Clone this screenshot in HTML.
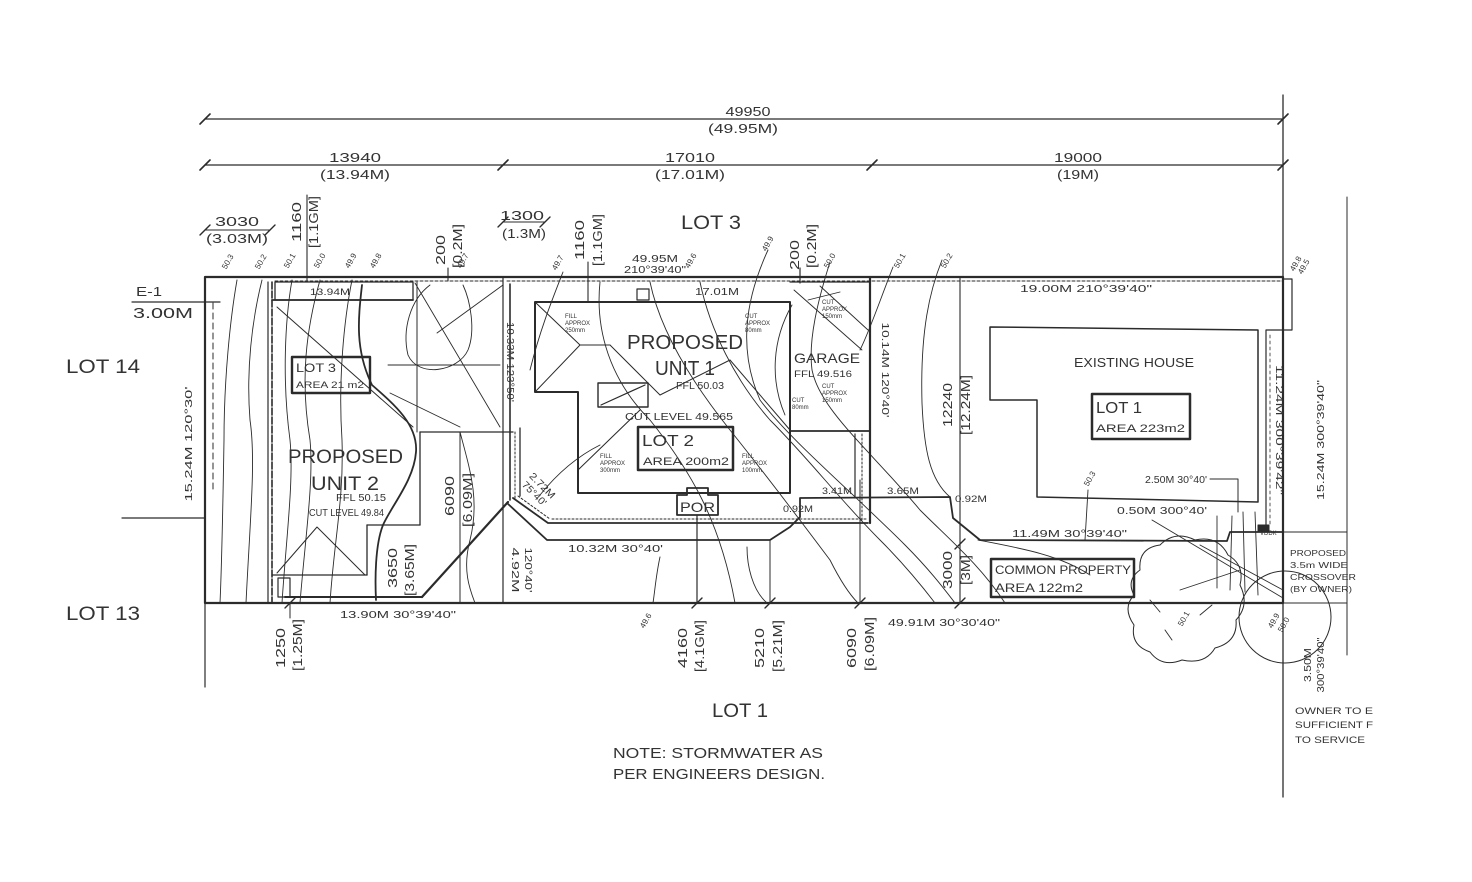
<!DOCTYPE html>
<html><head><meta charset="utf-8"><style>
html,body{margin:0;padding:0;background:#fff;}
svg{display:block;}
text{font-family:"Liberation Sans",sans-serif;fill:#333;}
</style></head><body>
<svg width="1472" height="882" viewBox="0 0 1472 882" xmlns="http://www.w3.org/2000/svg">
<rect width="1472" height="882" fill="#fff"/>
<g stroke="#2b2b2b" fill="none" stroke-linecap="round" stroke-linejoin="round">
<!-- top dimension lines -->
<line x1="205" y1="119" x2="1283" y2="119" stroke-width="1.3"/>
<line x1="205" y1="165" x2="1283" y2="165" stroke-width="1.3"/>
<g stroke-width="1.6">
<line x1="200" y1="124" x2="210" y2="114"/><line x1="1278" y1="124" x2="1288" y2="114"/>
<line x1="200" y1="170" x2="210" y2="160"/><line x1="498" y1="170" x2="508" y2="160"/>
<line x1="867" y1="170" x2="877" y2="160"/><line x1="1278" y1="170" x2="1288" y2="160"/>
</g>
<line x1="1283" y1="95" x2="1283" y2="797" stroke-width="1.3"/>
<line x1="1347" y1="197" x2="1347" y2="655" stroke-width="1"/>
<line x1="1283" y1="532" x2="1347" y2="532" stroke-width="1"/>
<line x1="1283" y1="603" x2="1347" y2="603" stroke-width="1"/>

<!-- lot boundary -->
<rect x="205" y="277" width="1078" height="326" stroke-width="2.2"/>
<line x1="507" y1="281" x2="1283" y2="281" stroke-width="1" stroke-dasharray="3 2"/>
<line x1="275" y1="281" x2="503" y2="281" stroke-width="1" stroke-dasharray="3 2"/>

<!-- left side -->
<line x1="122" y1="518" x2="205" y2="518" stroke-width="1.2"/>
<line x1="205" y1="603" x2="205" y2="687" stroke-width="1.2"/>
<line x1="132" y1="302" x2="220" y2="302" stroke-width="1.2"/>
<line x1="213" y1="303" x2="213" y2="490" stroke-width="1" stroke-dasharray="6 4"/>
<line x1="268" y1="282" x2="268" y2="603" stroke-width="1.2"/>
<line x1="272" y1="282" x2="272" y2="603" stroke-width="1.6" stroke-dasharray="7 2"/>
<!-- dims top left -->
<line x1="205" y1="230" x2="270" y2="230" stroke-width="1.1"/>
<line x1="200" y1="235" x2="210" y2="225" stroke-width="1.4"/><line x1="265" y1="235" x2="275" y2="225" stroke-width="1.4"/>
<line x1="307" y1="195" x2="307" y2="282" stroke-width="1.1"/>
<line x1="448" y1="268" x2="448" y2="281" stroke-width="1.1"/>
<line x1="503" y1="222" x2="545" y2="222" stroke-width="1.1"/>
<line x1="498" y1="227" x2="508" y2="217" stroke-width="1.4"/><line x1="540" y1="227" x2="550" y2="217" stroke-width="1.4"/>
<line x1="588" y1="262" x2="588" y2="302" stroke-width="1.1"/>
<line x1="800" y1="268" x2="800" y2="283" stroke-width="1.2"/>

<!-- contours left strip -->
<g stroke-width="0.9">
<path d="M237,280 C230,320 224,380 224,440 C223,500 222,560 220,603"/>
<path d="M262,280 C252,320 246,370 250,420 C256,460 250,520 246,603"/>
<path d="M292,280 C285,320 282,380 290,440 C294,480 286,540 282,603"/>
<path d="M320,280 C306,330 300,380 310,440 C314,480 305,540 300,603"/>
<path d="M352,280 C344,320 338,380 342,440 C344,500 334,540 330,603"/>
<path d="M430,285 C410,300 402,330 408,355 C418,378 458,372 468,350 C476,330 470,300 463,285"/>
<line x1="415" y1="283" x2="500" y2="427"/>
<line x1="390" y1="393" x2="460" y2="427"/>
<line x1="437" y1="333" x2="503" y2="285"/>
<line x1="388" y1="365" x2="500" y2="365"/>
<path d="M460,432 C470,470 480,500 470,540 C462,570 470,590 475,603"/>
</g>

<!-- unit 2 -->
<rect x="275" y="282" width="138" height="18" stroke-width="1.3"/>
<line x1="272" y1="300" x2="413" y2="300" stroke-width="1.8"/>
<path d="M362,285 C358,320 355,350 372,385 C395,405 418,425 416,452 C414,480 392,505 383,525 C375,545 375,580 376,600" stroke-width="1.8"/>
<line x1="417" y1="282" x2="417" y2="432" stroke-width="1"/>
<line x1="420" y1="432" x2="513" y2="432" stroke-width="1.3"/>
<line x1="420" y1="432" x2="420" y2="525" stroke-width="1.3"/>
<line x1="367" y1="525" x2="420" y2="525" stroke-width="1.3"/>
<line x1="367" y1="525" x2="367" y2="575" stroke-width="1.3"/>
<line x1="272" y1="575" x2="367" y2="575" stroke-width="1.3"/>
<line x1="277" y1="307" x2="413" y2="427" stroke-width="1"/>
<polyline points="277,573 317,527 365,575" stroke-width="1"/>
<line x1="460" y1="432" x2="460" y2="603" stroke-width="1"/>
<rect x="278" y="578" width="12" height="19" stroke-width="1.2"/>
<line x1="285" y1="597" x2="422" y2="597" stroke-width="2"/>
<line x1="422" y1="597" x2="508" y2="502" stroke-width="2.2"/>
<rect x="292" y="357" width="78" height="36" stroke-width="2.4"/>

<!-- divider unit2/unit1 -->
<line x1="503" y1="277" x2="503" y2="603" stroke-width="1.2"/>
<line x1="510" y1="284" x2="510" y2="500" stroke-width="1.6"/>
<line x1="515" y1="432" x2="515" y2="498" stroke-width="1" stroke-dasharray="2 2"/>
<line x1="520" y1="428" x2="520" y2="496" stroke-width="1.3"/>

<!-- unit 1 -->
<polygon points="535,302 790,302 790,493 578,493 578,392 535,392" stroke-width="2"/>
<rect x="637" y="289" width="12" height="11" stroke-width="1.2"/>
<g stroke-width="1">
<polyline points="535,302 580,345 610,345"/>
<line x1="580" y1="345" x2="535" y2="392"/>
<line x1="610" y1="345" x2="660" y2="395"/>
<line x1="578" y1="470" x2="640" y2="410"/>
<line x1="660" y1="395" x2="730" y2="360"/>
<line x1="730" y1="360" x2="790" y2="430"/>
</g>
<rect x="598" y="383" width="50" height="24" stroke-width="1.4"/>
<line x1="601" y1="405" x2="645" y2="385" stroke-width="1.2"/>
<rect x="638" y="427" width="95" height="43" stroke-width="2.5"/>
<polygon points="677,495 687,495 687,488 708,488 708,495 718,495 718,515 677,515" stroke-width="1.8"/>
<!-- garage -->
<line x1="870" y1="278" x2="870" y2="523" stroke-width="2.2"/>
<line x1="790" y1="282" x2="870" y2="282" stroke-width="1.2"/>
<line x1="790" y1="431" x2="870" y2="431" stroke-width="1.8"/>
<line x1="862" y1="434" x2="862" y2="520" stroke-width="1" stroke-dasharray="2 2"/>
<line x1="855" y1="434" x2="855" y2="498" stroke-width="1.2"/>
<g stroke-width="0.9">
<line x1="794" y1="290" x2="862" y2="350"/>
<line x1="820" y1="286" x2="868" y2="330"/>
<line x1="808" y1="300" x2="840" y2="292"/>
<path d="M792,305 C772,340 770,380 785,415"/>
</g>
<!-- driveway -->
<polyline points="513,498 548,523 868,523" stroke-width="1.8"/>
<line x1="518" y1="496" x2="550" y2="519" stroke-width="1" stroke-dasharray="2 2"/>
<line x1="552" y1="519" x2="866" y2="519" stroke-width="1" stroke-dasharray="2 2"/>
<polyline points="507,503 547,540 770,540 790,527 800,517 800,498 950,497 953,518 980,540 1227,541 1230,532 1283,532" stroke-width="1.8"/>
<line x1="697" y1="515" x2="697" y2="603" stroke-width="1.2"/>
<line x1="770" y1="540" x2="770" y2="603" stroke-width="1"/>
<line x1="860" y1="480" x2="860" y2="603" stroke-width="1"/>
<line x1="960" y1="278" x2="960" y2="603" stroke-width="1.1"/>
<g stroke-width="1.4">
<line x1="285" y1="608" x2="295" y2="598"/><line x1="692" y1="608" x2="702" y2="598"/>
<line x1="765" y1="608" x2="775" y2="598"/><line x1="855" y1="608" x2="865" y2="598"/>
<line x1="955" y1="608" x2="965" y2="598"/><line x1="955" y1="549" x2="965" y2="539"/>
</g>
<line x1="290" y1="603" x2="290" y2="618" stroke-width="1"/>

<!-- contours unit 1 and right -->
<g stroke-width="0.9">
<path d="M563,272 C552,300 540,330 530,370"/>
<path d="M600,282 C595,330 610,380 650,420 C690,470 720,520 735,603"/>
<path d="M650,282 C660,330 690,380 730,430 C770,480 800,520 830,560 C840,580 850,595 858,603"/>
<path d="M700,282 C710,330 735,380 770,420 C810,460 840,500 880,540 C905,565 925,590 935,603"/>
<path d="M768,250 C745,300 738,350 760,400 C790,440 850,490 905,545 C930,570 945,590 955,603"/>
<path d="M830,262 C818,300 808,340 812,370 C820,410 870,450 920,510 C950,540 980,565 1005,603"/>
<path d="M893,267 C880,300 870,330 860,350"/>
<path d="M942,260 C930,290 920,330 922,403 C924,450 930,480 950,497"/>
<path d="M660,557 C656,575 655,590 653,603"/>
<path d="M747,547 C747,565 752,590 767,603"/>
<path d="M540,495 C560,470 580,455 600,445"/>
<path d="M978,540 C1020,548 1060,555 1090,575"/>
</g>

<!-- right part -->
<polygon points="990,327 1258,330 1258,502 1037,497 1037,400 990,400" stroke-width="1.5"/>
<rect x="1092" y="394" width="98" height="45" stroke-width="2.5"/>
<polyline points="1283,279 1292,279 1292,330 1266,330 1266,530" stroke-width="1.2"/>
<line x1="1270" y1="335" x2="1270" y2="525" stroke-width="0.8" stroke-dasharray="3 3"/>
<polyline points="1210,479 1238,479 1238,512" stroke-width="1"/>
<line x1="1088" y1="490" x2="1085" y2="540" stroke-width="0.9"/>
<rect x="1258" y="525" width="11" height="7" fill="#2b2b2b" stroke-width="1"/>
<rect x="991" y="559" width="143" height="38" stroke-width="2.5"/>
<g stroke-width="0.9">
<line x1="1217" y1="516" x2="1217" y2="588"/>
<line x1="1232" y1="516" x2="1230" y2="590"/>
<line x1="1243" y1="512" x2="1245" y2="592"/>
<line x1="1255" y1="512" x2="1258" y2="595"/>
<line x1="1152" y1="520" x2="1283" y2="598"/>
<line x1="1180" y1="590" x2="1240" y2="570"/>
<line x1="1200" y1="545" x2="1283" y2="590"/>
</g>
<path d="M1140,570 Q1138,548 1160,545 Q1175,530 1195,540 Q1218,535 1228,555 Q1245,565 1240,585 Q1250,605 1236,620 Q1238,642 1215,648 Q1205,665 1182,660 Q1162,668 1150,652 Q1130,645 1134,625 Q1122,608 1134,595 Q1126,580 1140,570Z" stroke-width="1"/>
<circle cx="1285" cy="617" r="46" stroke-width="1"/>
<line x1="1150" y1="600" x2="1160" y2="612" stroke-width="0.9"/>
<line x1="1200" y1="615" x2="1212" y2="605" stroke-width="0.9"/>
<line x1="1165" y1="630" x2="1172" y2="640" stroke-width="0.9"/>
</g>

<!-- TEXT -->
<g text-anchor="middle">
<text x="748" y="116" font-size="13" textLength="45" lengthAdjust="spacingAndGlyphs">49950</text>
<text x="743" y="133" font-size="13" textLength="70" lengthAdjust="spacingAndGlyphs">(49.95M)</text>
<text x="355" y="162" font-size="13" textLength="52" lengthAdjust="spacingAndGlyphs">13940</text>
<text x="355" y="179" font-size="13" textLength="70" lengthAdjust="spacingAndGlyphs">(13.94M)</text>
<text x="690" y="162" font-size="13" textLength="50" lengthAdjust="spacingAndGlyphs">17010</text>
<text x="690" y="179" font-size="13" textLength="70" lengthAdjust="spacingAndGlyphs">(17.01M)</text>
<text x="1078" y="162" font-size="13" textLength="48" lengthAdjust="spacingAndGlyphs">19000</text>
<text x="1078" y="179" font-size="13" textLength="42" lengthAdjust="spacingAndGlyphs">(19M)</text>
<text x="237" y="226" font-size="13" textLength="44" lengthAdjust="spacingAndGlyphs">3030</text>
<text x="237" y="243" font-size="13" textLength="62" lengthAdjust="spacingAndGlyphs">(3.03M)</text>
<text x="522" y="220" font-size="13" textLength="44" lengthAdjust="spacingAndGlyphs">1300</text>
<text x="524" y="238" font-size="13" textLength="44" lengthAdjust="spacingAndGlyphs">(1.3M)</text>
<text x="711" y="229" font-size="19" textLength="60" lengthAdjust="spacingAndGlyphs">LOT 3</text>
<text x="655" y="262" font-size="10" textLength="46" lengthAdjust="spacingAndGlyphs">49.95M</text>
<text x="655" y="273" font-size="10" textLength="62" lengthAdjust="spacingAndGlyphs">210°39'40"</text>
<text x="717" y="295" font-size="10" textLength="44" lengthAdjust="spacingAndGlyphs">17.01M</text>
<text x="330" y="295" font-size="9" textLength="40" lengthAdjust="spacingAndGlyphs">13.94M</text>
</g>

<!-- rotated -90 dims -->
<g text-anchor="middle" font-size="13">
<text transform="translate(301,222) rotate(-90)" textLength="40" lengthAdjust="spacingAndGlyphs">1160</text>
<text transform="translate(318,222) rotate(-90)" textLength="52" lengthAdjust="spacingAndGlyphs">[1.1GM]</text>
<text transform="translate(445,250) rotate(-90)" textLength="30" lengthAdjust="spacingAndGlyphs">200</text>
<text transform="translate(462,246) rotate(-90)" textLength="44" lengthAdjust="spacingAndGlyphs">[0.2M]</text>
<text transform="translate(584,240) rotate(-90)" textLength="40" lengthAdjust="spacingAndGlyphs">1160</text>
<text transform="translate(602,240) rotate(-90)" textLength="52" lengthAdjust="spacingAndGlyphs">[1.1GM]</text>
<text transform="translate(799,255) rotate(-90)" textLength="30" lengthAdjust="spacingAndGlyphs">200</text>
<text transform="translate(816,246) rotate(-90)" textLength="44" lengthAdjust="spacingAndGlyphs">[0.2M]</text>
<text transform="translate(285,648) rotate(-90)" textLength="40" lengthAdjust="spacingAndGlyphs">1250</text>
<text transform="translate(302,645) rotate(-90)" textLength="52" lengthAdjust="spacingAndGlyphs">[1.25M]</text>
<text transform="translate(687,648) rotate(-90)" textLength="40" lengthAdjust="spacingAndGlyphs">4160</text>
<text transform="translate(704,646) rotate(-90)" textLength="52" lengthAdjust="spacingAndGlyphs">[4.1GM]</text>
<text transform="translate(764,648) rotate(-90)" textLength="40" lengthAdjust="spacingAndGlyphs">5210</text>
<text transform="translate(782,646) rotate(-90)" textLength="52" lengthAdjust="spacingAndGlyphs">[5.21M]</text>
<text transform="translate(856,648) rotate(-90)" textLength="40" lengthAdjust="spacingAndGlyphs">6090</text>
<text transform="translate(874,644) rotate(-90)" textLength="54" lengthAdjust="spacingAndGlyphs">[6.09M]</text>
<text transform="translate(397,568) rotate(-90)" textLength="40" lengthAdjust="spacingAndGlyphs">3650</text>
<text transform="translate(414,570) rotate(-90)" textLength="52" lengthAdjust="spacingAndGlyphs">[3.65M]</text>
<text transform="translate(454,496) rotate(-90)" textLength="40" lengthAdjust="spacingAndGlyphs">6090</text>
<text transform="translate(472,500) rotate(-90)" textLength="54" lengthAdjust="spacingAndGlyphs">[6.09M]</text>
<text transform="translate(952,405) rotate(-90)" textLength="44" lengthAdjust="spacingAndGlyphs">12240</text>
<text transform="translate(970,405) rotate(-90)" textLength="60" lengthAdjust="spacingAndGlyphs">[12.24M]</text>
<text transform="translate(952,570) rotate(-90)" textLength="38" lengthAdjust="spacingAndGlyphs">3000</text>
<text transform="translate(970,570) rotate(-90)" textLength="30" lengthAdjust="spacingAndGlyphs">[3M]</text>
</g>
<g text-anchor="middle" font-size="10">
<text transform="translate(192,444) rotate(-90)" textLength="115" lengthAdjust="spacingAndGlyphs">15.24M 120°30'</text>
<text transform="translate(507,362) rotate(90)" textLength="80" lengthAdjust="spacingAndGlyphs">10.33M 123°50'</text>
<text transform="translate(512,570) rotate(90)" textLength="45" lengthAdjust="spacingAndGlyphs">4.92M</text>
<text transform="translate(525,570) rotate(90)" textLength="45" lengthAdjust="spacingAndGlyphs">120°40'</text>
<text transform="translate(882,370) rotate(90)" textLength="95" lengthAdjust="spacingAndGlyphs">10.14M 120°40'</text>
<text transform="translate(1276,430) rotate(90)" textLength="130" lengthAdjust="spacingAndGlyphs">11.24M 300°39'42"</text>
<text transform="translate(1324,440) rotate(-90)" textLength="120" lengthAdjust="spacingAndGlyphs">15.24M 300°39'40"</text>
<text transform="translate(1311,665) rotate(-90)" textLength="34" lengthAdjust="spacingAndGlyphs">3.50M</text>
<text transform="translate(1324,665) rotate(-90)" textLength="55" lengthAdjust="spacingAndGlyphs">300°39'40"</text>
<text transform="translate(540,488) rotate(45)" textLength="32" lengthAdjust="spacingAndGlyphs">2.72M</text>
<text transform="translate(532,496) rotate(45)" textLength="30" lengthAdjust="spacingAndGlyphs">75°40'</text>
</g>
<!-- contour labels -->
<g font-size="8" text-anchor="middle">
<text transform="translate(230,263) rotate(-60)">50.3</text>
<text transform="translate(263,263) rotate(-60)">50.2</text>
<text transform="translate(292,262) rotate(-60)">50.1</text>
<text transform="translate(322,262) rotate(-60)">50.0</text>
<text transform="translate(353,262) rotate(-60)">49.9</text>
<text transform="translate(378,262) rotate(-60)">49.8</text>
<text transform="translate(465,262) rotate(-60)">49.7</text>
<text transform="translate(560,264) rotate(-60)">49.7</text>
<text transform="translate(693,262) rotate(-60)">49.6</text>
<text transform="translate(770,245) rotate(-60)">49.9</text>
<text transform="translate(832,262) rotate(-60)">50.0</text>
<text transform="translate(902,262) rotate(-60)">50.1</text>
<text transform="translate(949,262) rotate(-60)">50.2</text>
<text transform="translate(1298,265) rotate(-60)">49.8</text>
<text transform="translate(1306,268) rotate(-60)">49.5</text>
<text transform="translate(648,622) rotate(-60)">49.6</text>
<text transform="translate(1092,480) rotate(-60)">50.3</text>
<text transform="translate(1186,620) rotate(-60)">50.1</text>
<text transform="translate(1276,622) rotate(-60)">49.9</text>
<text transform="translate(1286,626) rotate(-60)">50.0</text>
</g>

<!-- left labels -->
<text x="136" y="296" font-size="13" textLength="26" lengthAdjust="spacingAndGlyphs">E-1</text>
<text x="133" y="318" font-size="15" textLength="60" lengthAdjust="spacingAndGlyphs">3.00M</text>
<text x="66" y="373" font-size="19" textLength="74" lengthAdjust="spacingAndGlyphs">LOT 14</text>
<text x="66" y="620" font-size="19" textLength="74" lengthAdjust="spacingAndGlyphs">LOT 13</text>

<!-- unit 2 labels -->
<text x="296" y="372" font-size="12" textLength="40" lengthAdjust="spacingAndGlyphs">LOT 3</text>
<text x="296" y="388" font-size="9" textLength="68" lengthAdjust="spacingAndGlyphs">AREA 21 m2</text>
<text x="288" y="463" font-size="19" textLength="115" lengthAdjust="spacingAndGlyphs">PROPOSED</text>
<text x="311" y="490" font-size="19" textLength="68" lengthAdjust="spacingAndGlyphs">UNIT 2</text>
<text x="336" y="501" font-size="10" textLength="50" lengthAdjust="spacingAndGlyphs">FFL 50.15</text>
<text x="309" y="516" font-size="10" textLength="75" lengthAdjust="spacingAndGlyphs">CUT LEVEL 49.84</text>
<text x="340" y="618" font-size="10" textLength="116" lengthAdjust="spacingAndGlyphs">13.90M 30°39'40"</text>

<!-- unit 1 labels -->
<text x="627" y="349" font-size="20" textLength="116" lengthAdjust="spacingAndGlyphs">PROPOSED</text>
<text x="655" y="375" font-size="20" textLength="60" lengthAdjust="spacingAndGlyphs">UNIT 1</text>
<text x="676" y="389" font-size="10" textLength="48" lengthAdjust="spacingAndGlyphs">FFL 50.03</text>
<text x="625" y="420" font-size="10" textLength="108" lengthAdjust="spacingAndGlyphs">CUT LEVEL 49.565</text>
<text x="642" y="446" font-size="16" textLength="52" lengthAdjust="spacingAndGlyphs">LOT 2</text>
<text x="643" y="465" font-size="11" textLength="86" lengthAdjust="spacingAndGlyphs">AREA 200m2</text>
<text x="680" y="512" font-size="14" textLength="35" lengthAdjust="spacingAndGlyphs">POR</text>
<text x="794" y="363" font-size="14" textLength="66" lengthAdjust="spacingAndGlyphs">GARAGE</text>
<text x="794" y="377" font-size="9" textLength="58" lengthAdjust="spacingAndGlyphs">FFL 49.516</text>
<g font-size="6">
<text x="565" y="318">FILL</text><text x="565" y="325">APPROX</text><text x="565" y="332">250mm</text>
<text x="745" y="318">CUT</text><text x="745" y="325">APPROX</text><text x="745" y="332">80mm</text>
<text x="822" y="304">CUT</text><text x="822" y="311">APPROX</text><text x="822" y="318">150mm</text>
<text x="822" y="388">CUT</text><text x="822" y="395">APPROX</text><text x="822" y="402">150mm</text>
<text x="600" y="458">FILL</text><text x="600" y="465">APPROX</text><text x="600" y="472">300mm</text>
<text x="742" y="458">FILL</text><text x="742" y="465">APPROX</text><text x="742" y="472">100mm</text>
<text x="792" y="402">CUT</text><text x="792" y="409">80mm</text>
</g>
<text x="822" y="494" font-size="9" textLength="30" lengthAdjust="spacingAndGlyphs">3.41M</text>
<text x="783" y="512" font-size="9" textLength="30" lengthAdjust="spacingAndGlyphs">0.92M</text>
<text x="568" y="552" font-size="10" textLength="95" lengthAdjust="spacingAndGlyphs">10.32M 30°40'</text>

<!-- right labels -->
<text x="1020" y="292" font-size="10" textLength="132" lengthAdjust="spacingAndGlyphs">19.00M  210°39'40"</text>
<text x="1074" y="367" font-size="13" textLength="120" lengthAdjust="spacingAndGlyphs">EXISTING HOUSE</text>
<text x="1096" y="413" font-size="16" textLength="46" lengthAdjust="spacingAndGlyphs">LOT 1</text>
<text x="1096" y="432" font-size="11" textLength="89" lengthAdjust="spacingAndGlyphs">AREA 223m2</text>
<text x="887" y="494" font-size="9" textLength="32" lengthAdjust="spacingAndGlyphs">3.65M</text>
<text x="955" y="502" font-size="9" textLength="32" lengthAdjust="spacingAndGlyphs">0.92M</text>
<text x="1145" y="483" font-size="10" textLength="62" lengthAdjust="spacingAndGlyphs">2.50M 30°40'</text>
<text x="1117" y="514" font-size="10" textLength="90" lengthAdjust="spacingAndGlyphs">0.50M 300°40'</text>
<text x="1012" y="537" font-size="10" textLength="115" lengthAdjust="spacingAndGlyphs">11.49M 30°39'40"</text>
<text x="995" y="574" font-size="12" textLength="136" lengthAdjust="spacingAndGlyphs">COMMON PROPERTY</text>
<text x="995" y="592" font-size="12" textLength="88" lengthAdjust="spacingAndGlyphs">AREA 122m2</text>
<text x="888" y="626" font-size="10" textLength="112" lengthAdjust="spacingAndGlyphs">49.91M 30°30'40"</text>
<text x="1260" y="535" font-size="6">VDDK</text>
<g font-size="8">
<text x="1290" y="556" textLength="56" lengthAdjust="spacingAndGlyphs">PROPOSED</text>
<text x="1290" y="568" textLength="58" lengthAdjust="spacingAndGlyphs">3.5m WIDE</text>
<text x="1290" y="580" textLength="66" lengthAdjust="spacingAndGlyphs">CROSSOVER</text>
<text x="1290" y="592" textLength="62" lengthAdjust="spacingAndGlyphs">(BY OWNER)</text>
</g>
<g font-size="9.5">
<text x="1295" y="714" textLength="78" lengthAdjust="spacingAndGlyphs">OWNER TO E</text>
<text x="1295" y="728" textLength="78" lengthAdjust="spacingAndGlyphs">SUFFICIENT F</text>
<text x="1295" y="743" textLength="70" lengthAdjust="spacingAndGlyphs">TO SERVICE</text>
</g>

<!-- bottom -->
<text x="712" y="717" font-size="19" textLength="56" lengthAdjust="spacingAndGlyphs">LOT 1</text>
<text x="613" y="758" font-size="15" textLength="210" lengthAdjust="spacingAndGlyphs">NOTE: STORMWATER AS</text>
<text x="613" y="779" font-size="15" textLength="212" lengthAdjust="spacingAndGlyphs">PER ENGINEERS DESIGN.</text>
</svg>
</body></html>
